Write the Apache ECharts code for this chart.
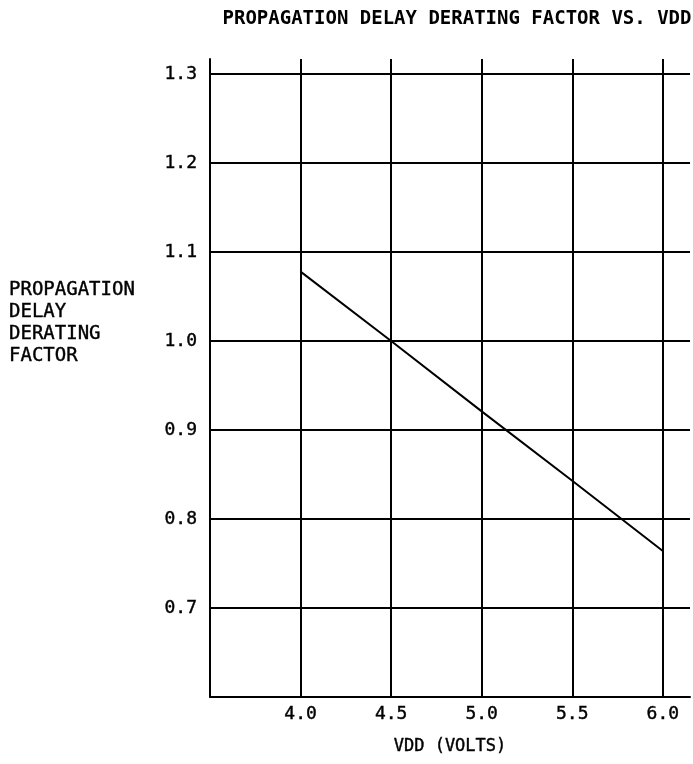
<!DOCTYPE html>
<html>
<head>
<meta charset="utf-8">
<script src="https://cdn.jsdelivr.net/npm/echarts@6/dist/echarts.min.js"></script>
<style>
html,body{margin:0;padding:0;background:#fff;}
#chart{width:693px;height:764px;}
</style>
</head>
<body>
<div id="chart"></div>
<script>
const vdd = [4.0, 4.5, 5.0, 5.5, 6.0];
const deratingFactor = [1.078, 1.0, 0.921, 0.843, 0.764];
const xTickLabels = ['4.0', '4.5', '5.0', '5.5', '6.0'];
const yTickLabels = ['0.7', '0.8', '0.9', '1.0', '1.1', '1.2', '1.3'];

const FONT = 'DejaVu Sans Mono';
const chart = echarts.init(document.getElementById('chart'));
chart.setOption({
  backgroundColor: '#fff',
  animation: false,
  title: [
    {
      text: 'PROPAGATION DELAY DERATING FACTOR VS. VDD',
      left: 452, top: 5, textAlign: 'center',
      textStyle: {fontFamily: FONT, fontSize: 19, fontWeight: 'bold', color: '#000'}
    },
    {
      text: 'PROPAGATION\nDELAY\nDERATING\nFACTOR',
      left: 4, top: 274,
      textStyle: {fontFamily: FONT, fontSize: 19, fontWeight: 'normal', color: '#000', lineHeight: 22,
                  textBorderColor: '#000', textBorderWidth: 0.4}
    }
  ],
  grid: {left: 210, top: 59, width: 480, height: 638, containLabel: false},
  xAxis: {
    type: 'value', min: 3.5, max: 6.15, interval: 0.5,
    name: 'VDD (VOLTS)', nameLocation: 'middle', nameGap: 41,
    nameTextStyle: {fontFamily: FONT, fontSize: 17, color: '#000', textBorderColor: '#000', textBorderWidth: 0.4},
    axisLine: {show: true, onZero: false, lineStyle: {color: '#000', width: 2}},
    axisTick: {show: false},
    axisLabel: {
      margin: 8, fontFamily: FONT, fontSize: 18, color: '#000',
      textBorderColor: '#000', textBorderWidth: 0.4,
      showMinLabel: true, showMaxLabel: true,
      formatter: v => { const s = v.toFixed(1); return (xTickLabels.indexOf(s) >= 0 && Math.abs(v - parseFloat(s)) < 1e-6) ? s : ''; }
    },
    splitLine: {show: true, showMinLine: false, showMaxLine: false, lineStyle: {color: '#000', width: 2}}
  },
  yAxis: {
    type: 'value', min: 0.6, max: 1.317, interval: 0.1,
    axisLine: {show: true, onZero: false, lineStyle: {color: '#000', width: 2}},
    axisTick: {show: false},
    axisLabel: {
      margin: 13, fontFamily: FONT, fontSize: 18, color: '#000',
      textBorderColor: '#000', textBorderWidth: 0.4,
      formatter: v => { const s = v.toFixed(1); return (yTickLabels.indexOf(s) >= 0 && Math.abs(v - parseFloat(s)) < 1e-6) ? s : ''; }
    },
    splitLine: {show: true, showMinLine: false, showMaxLine: false, lineStyle: {color: '#000', width: 2}}
  },
  series: [{
    type: 'line',
    data: vdd.map((x, i) => [x, deratingFactor[i]]),
    showSymbol: false,
    lineStyle: {color: '#000', width: 2},
    z: 5
  }]
});
</script>
</body>
</html>
